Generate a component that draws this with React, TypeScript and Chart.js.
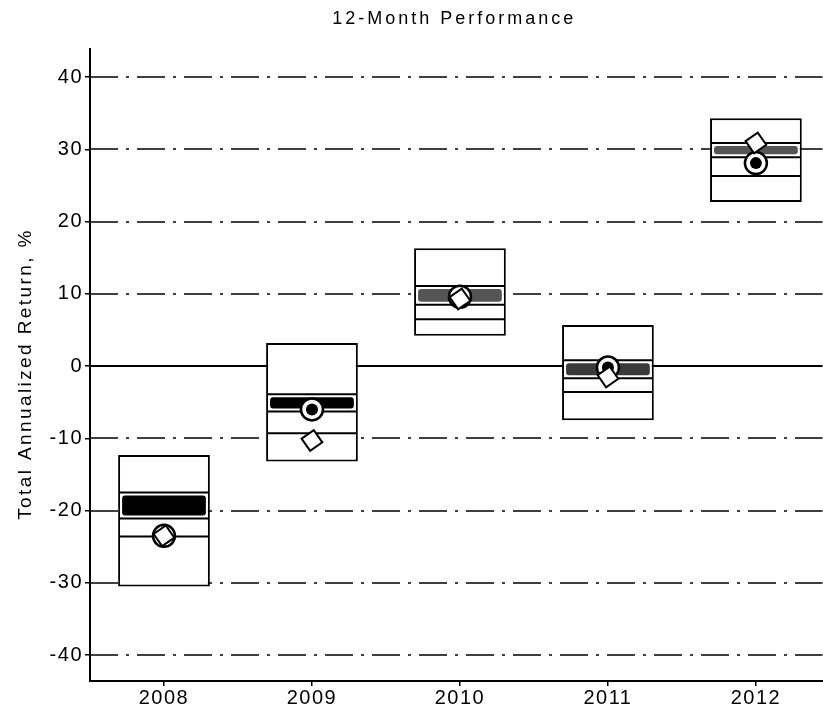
import React, { useEffect, useRef } from "react";
import { Chart, registerables } from "chart.js";

Chart.register(...registerables);

const years = ["2008", "2009", "2010", "2011", "2012"];
const boxHigh = [-12.3, 3.2, 16.3, 5.7, 34.3];
const boxLow = [-30.5, -13.2, 4.2, -7.5, 22.7];
const upperLine = [-17.5, -3.9, 11.1, 0.8, 30.9];
const medianLine = [-21.1, -6.3, 8.5, -1.7, 28.9];
const lowerLine = [-23.6, -9.3, 6.5, -3.6, 26.3];
const fundReturn = [-23.5, -6.0, 9.6, -0.2, 28.1];
const benchmarkReturn = [-23.5, -10.3, 9.3, -1.5, 30.9];
const bandShade = ["#000000", "#000000", "#555555", "#3a3a3a", "#555555"];
const yTicks = [-40, -30, -20, -10, 0, 10, 20, 30, 40];
const chartTitle = "12-Month Performance";
const yAxisTitle = "Total Annualized Return, %";

const FONT = "'Liberation Sans', Arial, sans-serif";
const BAR_INDEX = 3;

const detailsPlugin = {
  id: "boxDetails",
  beforeDraw(chart: any) {
    chart.ctx.letterSpacing = "1.5px";
  },
  beforeDatasetsDraw(chart: any) {
    const { ctx, chartArea, scales } = chart;
    const y = scales.y;
    ctx.save();
    ctx.strokeStyle = "#000";
    y.ticks.forEach((t: any) => {
      const py = Math.round(y.getPixelForValue(t.value));
      const zero = t.value === 0;
      ctx.lineWidth = zero ? 2 : 1.5;
      ctx.setLineDash(zero ? [] : [28, 8, 3, 8]);
      ctx.beginPath();
      ctx.moveTo(chartArea.left, py);
      ctx.lineTo(chartArea.right, py);
      ctx.stroke();
    });
    ctx.restore();
  },
  afterDatasetDraw(chart: any, args: any) {
    if (args.index !== BAR_INDEX) return;
    const { ctx } = chart;
    const y = chart.scales.y;
    args.meta.data.forEach((bar: any, i: number) => {
      const { x, width } = bar.getProps(["x", "width"], true);
      const l = x - width / 2 + 1;
      const r = x + width / 2 - 1;
      const pa = y.getPixelForValue(upperLine[i]);
      const pm = y.getPixelForValue(medianLine[i]);
      const pl = y.getPixelForValue(lowerLine[i]);
      ctx.save();
      ctx.fillStyle = bandShade[i];
      ctx.beginPath();
      ctx.roundRect(l + 3, pa + 3, r - l - 6, pm - pa - 6, 3);
      ctx.fill();
      ctx.strokeStyle = "#000";
      ctx.lineWidth = 2;
      [pa, pm, pl].forEach((p) => {
        ctx.beginPath();
        ctx.moveTo(l, p);
        ctx.lineTo(r, p);
        ctx.stroke();
      });
      ctx.restore();
    });
  },
  afterDraw(chart: any) {
    const { ctx, chartArea } = chart;
    ctx.save();
    ctx.fillStyle = "#000";
    ctx.textAlign = "center";
    ctx.textBaseline = "middle";
    ctx.letterSpacing = "3px";
    ctx.font = `18px ${FONT}`;
    ctx.fillText(chartTitle, (chartArea.left + chartArea.right) / 2 - 2, 19);
    ctx.letterSpacing = "2.4px";
    ctx.font = `19px ${FONT}`;
    ctx.translate(26, 374);
    ctx.rotate(-Math.PI / 2);
    ctx.fillText(yAxisTitle, 0, 0);
    ctx.restore();
  },
};

export default function App() {
  const ref = useRef<HTMLCanvasElement>(null);
  useEffect(() => {
    const toPoints = (arr: number[]) => arr.map((v, i) => ({ x: i, y: v }));
    const chart = new Chart(ref.current as HTMLCanvasElement, {
      type: "bar",
      data: {
        datasets: [
          {
            type: "scatter",
            label: "Benchmark",
            data: toPoints(benchmarkReturn),
            pointStyle: "rectRot",
            pointRadius: 10.5,
            pointRotation: 10,
            backgroundColor: "#fff",
            borderColor: "#000",
            borderWidth: 2,
          },
          {
            type: "scatter",
            label: "Fund",
            data: toPoints(fundReturn),
            pointStyle: "circle",
            pointRadius: 6,
            backgroundColor: "#000",
            borderColor: "#000",
            borderWidth: 0,
          },
          {
            type: "scatter",
            label: "Fund ring",
            data: toPoints(fundReturn),
            pointStyle: "circle",
            pointRadius: 11,
            backgroundColor: "#fff",
            borderColor: "#000",
            borderWidth: 2.5,
          },
          {
            type: "bar",
            label: "Range",
            data: years.map((_, i) => ({ x: i, y: [boxLow[i], boxHigh[i]] })),
            backgroundColor: "#fff",
            borderColor: "#000",
            borderWidth: 2,
            borderSkipped: false,
            barPercentage: 0.62,
            categoryPercentage: 1,
          },
        ] as any,
      },
      options: {
        responsive: false,
        animation: false,
        devicePixelRatio: 1,
        layout: { padding: { top: 49, left: 0, right: 0, bottom: 0 } },
        plugins: {
          legend: { display: false },
          tooltip: { enabled: false },
          title: { display: false },
        },
        scales: {
          x: {
            type: "linear",
            min: -0.5,
            max: 4.45,
            offset: false,
            afterBuildTicks: (s: any) => {
              s.ticks = years.map((_, i) => ({ value: i }));
            },
            afterFit: (s: any) => {
              s.height = 36;
              s.paddingLeft = 0;
              s.paddingRight = 0;
            },
            ticks: {
              callback: (v: any) => years[v as number],
              font: { family: FONT, size: 20 },
              color: "#000",
              padding: 0,
              maxRotation: 0,
            },
            grid: {
              offset: false,
              drawOnChartArea: false,
              tickLength: 5,
              color: "#000",
              lineWidth: 1.5,
            },
            border: { color: "#000", width: 2 },
          },
          y: {
            type: "linear",
            min: -43.6,
            max: 43.9,
            afterBuildTicks: (s: any) => {
              s.ticks = yTicks.map((v) => ({ value: v }));
            },
            afterFit: (s: any) => {
              s.width = 90;
              s.paddingTop = 0;
              s.paddingBottom = 0;
            },
            ticks: {
              font: { family: FONT, size: 20 },
              color: "#000",
              padding: 2,
            },
            grid: {
              drawOnChartArea: false,
              tickLength: 5,
              color: "#000",
              lineWidth: 1.5,
            },
            border: { color: "#000", width: 2 },
          },
        },
      } as any,
      plugins: [detailsPlugin],
    });
    return () => chart.destroy();
  }, []);
  return (
    <div style={{ position: "absolute", left: 0, top: 0, width: 823, height: 717, background: "#fff", overflow: "hidden" }}>
      <canvas ref={ref} width={836} height={717} style={{ display: "block" }} />
    </div>
  );
}
